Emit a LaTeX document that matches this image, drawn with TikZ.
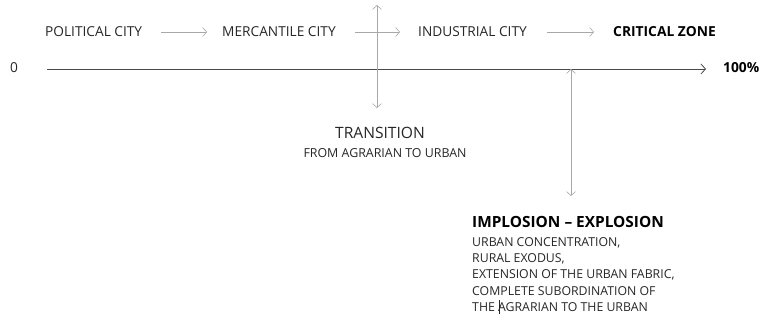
\documentclass[tikz,border=0pt]{standalone}
\usepackage{fontspec}
\setmainfont{Open Sans}
\usetikzlibrary{arrows.meta}
\definecolor{txt}{HTML}{262626}
\definecolor{axisc}{HTML}{4A4A4A}
\definecolor{arrc}{HTML}{A8A8A8}
\begin{document}
\begin{tikzpicture}[x=1pt,y=-1pt,
  lbl/.style={inner sep=0pt,anchor=west,text=txt,font=\fontsize{13.7}{15}\selectfont},
  bold/.style={lbl,font=\fontsize{13.8}{15}\selectfont\bfseries,text=black},
  small/.style={inner sep=0pt,anchor=west,text=txt,font=\fontsize{12.3}{16}\selectfont},
  flow/.style={draw=arrc,line width=0.6pt,-{Straight Barb[length=4pt,width=9pt]}},
  twoway/.style={draw=arrc,line width=0.6pt,{Straight Barb[length=4pt,width=9pt]}-{Straight Barb[length=4pt,width=9pt]}}]
\useasboundingbox (0,0) rectangle (767,323);

% stages of the urban phenomenon
\node[lbl] (pol) at (45,32) {POLITICAL CITY};
\node[lbl] (merc) at (222,32) {MERCANTILE CITY};
\node[lbl] (ind) at (418,32) {INDUSTRIAL CITY};
\node[bold] (crit) at (613,32) {CRITICAL ZONE};
\draw[flow,shorten <=19pt,shorten >=15pt] (pol.east) -- (merc.west);
\draw[flow,shorten <=19pt,shorten >=18pt] (merc.east) -- (ind.west);
\draw[flow,shorten <=20pt,shorten >=19pt] (ind.east) -- (crit.west);

% urbanisation axis from 0 to 100%
\node[lbl] (zero) at (10,68) {0};
\node[bold] (full) at (723,68) {100\%};
\coordinate (a0) at (47,69);
\coordinate (a1) at (706,69);
\draw[draw=axisc,line width=0.8pt,-{Straight Barb[length=4.5pt,width=10pt]}] (a0) -- (a1);

% transition marker
\coordinate (t0) at (377,5);
\coordinate (t1) at (377,108);
\draw[twoway] (t0) -- (t1);
\node[inner sep=0pt,text=txt,font=\fontsize{15.6}{17}\selectfont] (trans) at (380,133) {TRANSITION};
\node[inner sep=0pt,text=txt,font=\fontsize{12.4}{14}\selectfont] (trans2) at (385,153) {FROM AGRARIAN TO URBAN};

% critical point: implosion-explosion
\coordinate (c0) at (571,69);
\coordinate (c1) at (571,196);
\draw[twoway] (c0) -- (c1);
\node[inner sep=0pt,anchor=west,text=black,font=\fontsize{15.4}{17}\selectfont\bfseries] (impl) at (472,222) {IMPLOSION -- EXPLOSION};
\node[small] (l1) at (472,243) {URBAN CONCENTRATION,};
\node[small] (l2) at (472,259) {RURAL EXODUS,};
\node[small] (l3) at (472,275) {EXTENSION OF THE URBAN FABRIC,};
\node[small] (l4) at (472,291) {COMPLETE SUBORDINATION OF};
\node[small] (l5) at (472,307) {THE AGRARIAN TO THE URBAN};
\draw[draw=txt,line width=0.4pt] (499,300) -- (499,314);
\end{tikzpicture}
\end{document}
